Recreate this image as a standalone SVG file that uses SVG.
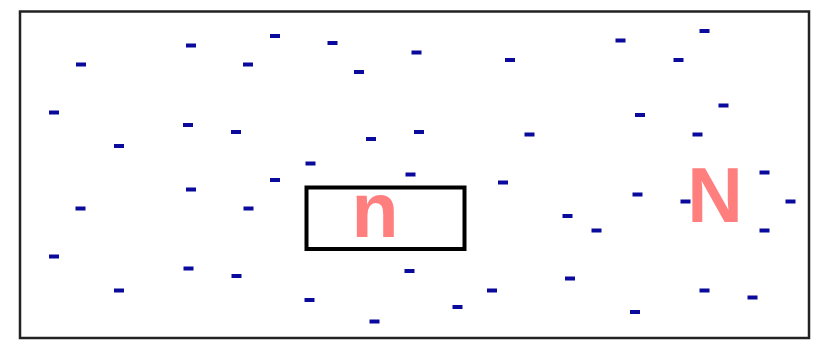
<svg xmlns="http://www.w3.org/2000/svg" xmlns:xlink="http://www.w3.org/1999/xlink" width="827" height="347" viewBox="0 0 827 347">
<style>
.lbl{font-family:"Liberation Sans",Arial,sans-serif;font-weight:bold;font-size:77px;fill:#FF7F7F;text-anchor:middle}
.d{fill:#0a0a9c}
</style>
<defs>
<rect id="m" x="-5" y="-2" width="10" height="4"/>
</defs>
<rect width="827" height="347" fill="#fff"/>
<rect id="frame" x="20" y="11.5" width="789" height="326.5" fill="none" stroke="#222" stroke-width="2.5"/>
<g id="dashes" class="d">
<use xlink:href="#m" x="191" y="45.5"/>
<use xlink:href="#m" x="81" y="64.5"/>
<use xlink:href="#m" x="248" y="64.5"/>
<use xlink:href="#m" x="275" y="36"/>
<use xlink:href="#m" x="54" y="112.5"/>
<use xlink:href="#m" x="188" y="125"/>
<use xlink:href="#m" x="236" y="132"/>
<use xlink:href="#m" x="119" y="146"/>
<use xlink:href="#m" x="332.5" y="43"/>
<use xlink:href="#m" x="416.5" y="52.5"/>
<use xlink:href="#m" x="359" y="72"/>
<use xlink:href="#m" x="510" y="60"/>
<use xlink:href="#m" x="371" y="139"/>
<use xlink:href="#m" x="419" y="132"/>
<use xlink:href="#m" x="529.5" y="134.5"/>
<use xlink:href="#m" x="310.5" y="163.5"/>
<use xlink:href="#m" x="410.5" y="174.5"/>
<use xlink:href="#m" x="620.5" y="40.5"/>
<use xlink:href="#m" x="704.5" y="31"/>
<use xlink:href="#m" x="678.5" y="60"/>
<use xlink:href="#m" x="723.5" y="105.5"/>
<use xlink:href="#m" x="640" y="115"/>
<use xlink:href="#m" x="697.5" y="134.5"/>
<use xlink:href="#m" x="764.5" y="172.5"/>
<use xlink:href="#m" x="191" y="189.5"/>
<use xlink:href="#m" x="80.5" y="208.5"/>
<use xlink:href="#m" x="248.5" y="208.5"/>
<use xlink:href="#m" x="275" y="180"/>
<use xlink:href="#m" x="54" y="256.5"/>
<use xlink:href="#m" x="188.5" y="268.5"/>
<use xlink:href="#m" x="236.5" y="276"/>
<use xlink:href="#m" x="119" y="290.5"/>
<use xlink:href="#m" x="503" y="182.5"/>
<use xlink:href="#m" x="409.5" y="271"/>
<use xlink:href="#m" x="492" y="290.5"/>
<use xlink:href="#m" x="309.5" y="300"/>
<use xlink:href="#m" x="457.5" y="307"/>
<use xlink:href="#m" x="374.5" y="321.5"/>
<use xlink:href="#m" x="637.5" y="194.5"/>
<use xlink:href="#m" x="685.5" y="201.5"/>
<use xlink:href="#m" x="790.5" y="201.5"/>
<use xlink:href="#m" x="567.5" y="216"/>
<use xlink:href="#m" x="596.5" y="230.5"/>
<use xlink:href="#m" x="764.5" y="230.5"/>
<use xlink:href="#m" x="570" y="278.5"/>
<use xlink:href="#m" x="704.5" y="290.5"/>
<use xlink:href="#m" x="752.5" y="297.5"/>
<use xlink:href="#m" x="635" y="312"/>
</g>
<g id="node-n">
<rect x="306.5" y="187.5" width="158" height="61.5" fill="none" stroke="#000" stroke-width="4"/>
<text class="lbl" x="375" y="237">n</text>
</g>
<g id="label-N">
<text class="lbl" x="715" y="222">N</text>
</g>
<g id="connectors"/>
</svg>
